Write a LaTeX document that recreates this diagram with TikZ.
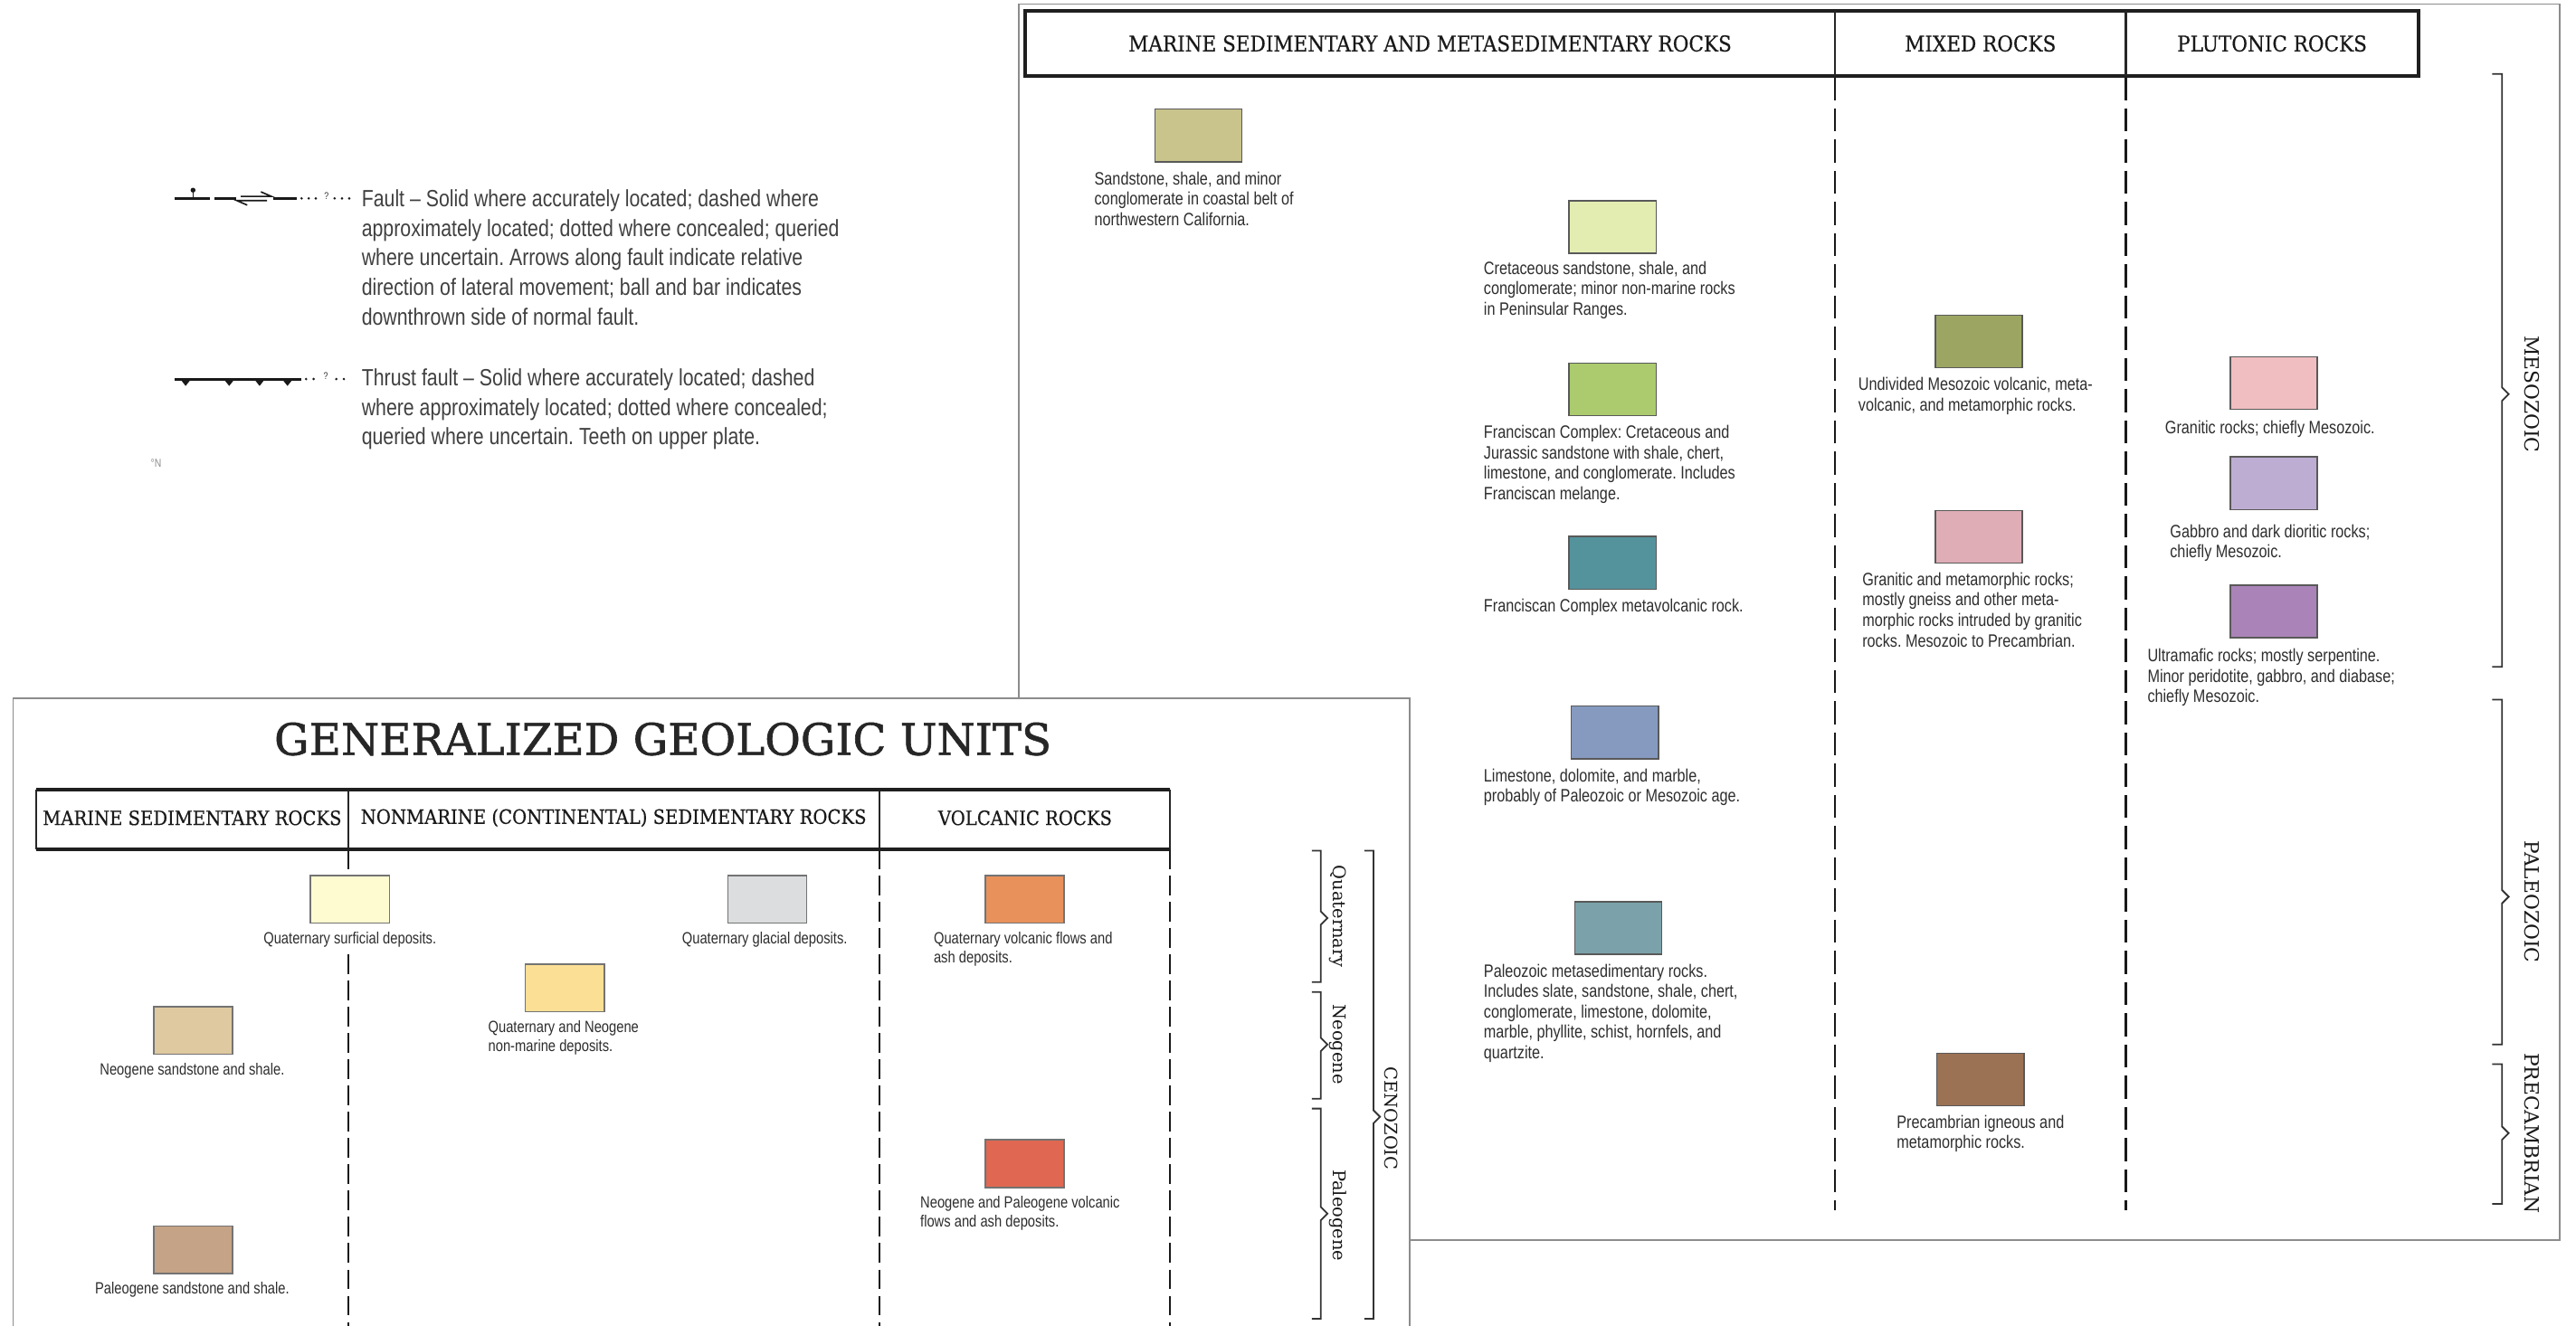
\documentclass[tikz,border=0pt]{standalone}
\usepackage{fontspec}
\setmainfont{Liberation Sans}
\newfontfamily\bodyf[FakeStretch=0.82]{Liberation Sans}
\newfontfamily\slabf[FakeBold=0.4]{DejaVu Serif Condensed}
\newfontfamily\titlef[FakeBold=1.2]{DejaVu Serif}
\newfontfamily\serf{DejaVu Serif}
\frenchspacing
\definecolor{cA}{HTML}{C8C48C}
\definecolor{cB}{HTML}{E4EDB1}
\definecolor{cC}{HTML}{ABCB6E}
\definecolor{cD}{HTML}{55939C}
\definecolor{cE}{HTML}{869ABF}
\definecolor{cF}{HTML}{7BA2AA}
\definecolor{cG}{HTML}{9CA662}
\definecolor{cH}{HTML}{DFADB6}
\definecolor{cI}{HTML}{9B7254}
\definecolor{cJ}{HTML}{F0BEC0}
\definecolor{cK}{HTML}{BEADD3}
\definecolor{cL}{HTML}{AA84B8}
\definecolor{cQs}{HTML}{FFFBD0}
\definecolor{cQg}{HTML}{DCDDDE}
\definecolor{cQv}{HTML}{E8915B}
\definecolor{cQN}{HTML}{FBDF95}
\definecolor{cNs}{HTML}{DFC9A0}
\definecolor{cNPv}{HTML}{E06751}
\definecolor{cPs}{HTML}{C5A386}
\tikzset{
 panel/.style={draw=black!45, line width=1pt, fill=white},
 hdrthick/.style={draw=black!88, line width=2.2pt},
 divline/.style={draw=black!85, line width=1.2pt},
 colsep/.style={draw=black!90, line width=1.3pt, dash pattern=on 14pt off 5pt},
 colsepb/.style={draw=black!90, line width=1.2pt, dash pattern=on 12pt off 4pt},
 swa/.style={draw=black!65, line width=0.8pt, minimum width=53pt, minimum height=32pt, inner sep=0pt},
 swb/.style={draw=black!55, line width=0.9pt, minimum width=48pt, minimum height=29pt, inner sep=0pt},
 ta/.style={font=\bodyf\fontsize{10.9}{12.4}\selectfont, align=left, inner sep=0pt, text=black!82, anchor=north west},
 tb/.style={font=\bodyf\fontsize{9.9}{11.5}\selectfont, align=left, inner sep=0pt, text=black!82},
 tleg/.style={font=\bodyf\fontsize{14.3}{18}\selectfont, align=left, inner sep=0pt, text=black!75, anchor=north west},
 hdra/.style={font=\slabf\fontsize{13.2}{15}\selectfont, text=black!90, inner sep=0pt},
 hdrb/.style={font=\slabf\fontsize{12}{14}\selectfont, text=black!90, inner sep=0pt},
 titl/.style={font=\titlef\fontsize{26.6}{30}\selectfont, text=black!85, inner sep=0pt},
 era/.style={font=\serf\fontsize{12}{14}\selectfont, rotate=-90, inner sep=0pt, text=black!90},
 per/.style={font=\serf\fontsize{10.7}{13}\selectfont, rotate=-90, inner sep=0pt, text=black!90},
 brk/.style={draw=black!80, line width=1pt},
 fl/.style={draw=black!90, line width=1.6pt},
 thin/.style={draw=black!90, line width=0.9pt},
 qm/.style={font=\bodyf\fontsize{6}{6}\selectfont, inner sep=0pt, text=black!80},
}
\begin{document}
\begin{tikzpicture}[x=1pt,y=-1pt]
\useasboundingbox (0,0) rectangle (1568,807.4);
\clip (0,0) rectangle (1568,807.4);

% ---------------- legend (fault symbols) ----------------
\coordinate (f1a) at (106.5,120.8); \coordinate (f1b) at (127.8,120.8);
\draw[fl] (f1a) -- (f1b);
\draw[thin] (117.5,120.8) -- (117.5,116.5);
\fill[black!90] (117.5,115.8) circle (1.5);
\coordinate (f2a) at (130.6,120.8); \coordinate (f2b) at (143.5,120.8);
\draw[fl] (f2a) -- (f2b);
\draw[thin] (158.8,116.8) -- (165.2,119.6) -- (146.5,119.6);
\draw[thin] (150.5,124.9) -- (144.1,122.1) -- (162.5,122.1);
\coordinate (f3a) at (166.3,120.8); \coordinate (f3b) at (180.6,120.8);
\draw[fl] (f3a) -- (f3b);
\foreach \x in {183.6,187.9,192.2,203.7,208.2,212.6} \fill[black!90] (\x,120.8) circle (0.8);
\node[qm] (fq) at (198.8,119.2) {?};
\node[tleg] (ftxt) at (220,115.3) {Fault – Solid where accurately located; dashed where\\approximately located; dotted where concealed; queried\\where uncertain. Arrows along fault indicate relative\\direction of lateral movement; ball and bar indicates\\downthrown side of normal fault.};

\coordinate (t1a) at (106.5,230.8); \coordinate (t1b) at (183.4,230.8);
\draw[fl] (t1a) -- (t1b);
\foreach \x in {113,139.5,158,175} \fill[black!90] (\x-3,231.2) -- (\x+3,231.2) -- (\x,235) -- cycle;
\foreach \x in {186.3,190.9,204.7,209.3} \fill[black!90] (\x,230.8) circle (0.8);
\node[qm] (tq) at (198.3,229.2) {?};
\node[tleg] (ttxt) at (220,224.3) {Thrust fault – Solid where accurately located; dashed\\where approximately located; dotted where concealed;\\queried where uncertain. Teeth on upper plate.};

\node[font=\bodyf\fontsize{7}{8}\selectfont, text=black!45, inner sep=0pt] (dn) at (95,282) {°N};

% ---------------- top-right panel ----------------
\draw[panel] (620,2.5) rectangle (1558,755);
\coordinate (d1t) at (1117,47); \coordinate (d1b) at (1117,737);
\coordinate (d2t) at (1294,47); \coordinate (d2b) at (1294,737);
\draw[colsep] (d1t) -- (d1b);
\draw[colsep] (d2t) -- (d2b);
\draw[hdrthick] (624,6.5) rectangle (1472,46.5);
\draw[divline] (1117,6.5) -- (1117,46.5);
\draw[divline] (1294,6.5) -- (1294,46.5);
\node[hdra] (h1) at (870.5,26.5) {MARINE SEDIMENTARY AND METASEDIMENTARY ROCKS};
\node[hdra] (h2) at (1205.5,26.5) {MIXED ROCKS};
\node[hdra] (h3) at (1383,26.5) {PLUTONIC ROCKS};

\node[swa, fill=cA] (sA) at (729.5,82.5) {};
\node[ta] (tA) at (666,104.3) {Sandstone, shale, and minor\\conglomerate in coastal belt of\\northwestern California.};
\node[swa, fill=cB] (sB) at (981.5,138.2) {};
\node[ta] (tB) at (903,158.8) {Cretaceous sandstone, shale, and\\conglomerate; minor non-marine rocks\\in Peninsular Ranges.};
\node[swa, fill=cC] (sC) at (981.5,237) {};
\node[ta] (tC) at (903,258.8) {Franciscan Complex: Cretaceous and\\Jurassic sandstone with shale, chert,\\limestone, and conglomerate. Includes\\Franciscan melange.};
\node[swa, fill=cD] (sD) at (981.5,342.7) {};
\node[ta] (tD) at (903,364.5) {Franciscan Complex metavolcanic rock.};
\node[swa, fill=cE] (sE) at (983,446) {};
\node[ta] (tE) at (903,467.8) {Limestone, dolomite, and marble,\\probably of Paleozoic or Mesozoic age.};
\node[swa, fill=cF] (sF) at (985,565) {};
\node[ta] (tF) at (903,586.8) {Paleozoic metasedimentary rocks.\\Includes slate, sandstone, shale, chert,\\conglomerate, limestone, dolomite,\\marble, phyllite, schist, hornfels, and\\quartzite.};
\node[swa, fill=cG] (sG) at (1204.5,208) {};
\node[ta] (tG) at (1131,229.8) {Undivided Mesozoic volcanic, meta-\\volcanic, and metamorphic rocks.};
\node[swa, fill=cH] (sH) at (1204.5,326.8) {};
\node[ta] (tH) at (1133.4,348.5) {Granitic and metamorphic rocks;\\mostly gneiss and other meta-\\morphic rocks intruded by granitic\\rocks. Mesozoic to Precambrian.};
\node[swa, fill=cI] (sI) at (1205.5,657.4) {};
\node[ta] (tI) at (1154.4,678.8) {Precambrian igneous and\\metamorphic rocks.};
\node[swa, fill=cJ] (sJ) at (1384,233.2) {};
\node[ta] (tJ) at (1317.7,255.8) {Granitic rocks; chiefly Mesozoic.};
\node[swa, fill=cK] (sK) at (1384,294.2) {};
\node[ta] (tK) at (1320.7,319.2) {Gabbro and dark dioritic rocks;\\chiefly Mesozoic.};
\node[swa, fill=cL] (sL) at (1384,372.4) {};
\node[ta] (tL) at (1307,394.8) {Ultramafic rocks; mostly serpentine.\\Minor peridotite, gabbro, and diabase;\\chiefly Mesozoic.};

\draw[brk] (1517,45) -- (1523,45) -- (1523,236) -- (1527,240) -- (1523,244) -- (1523,406) -- (1517,406);
\draw[brk] (1517,426) -- (1523,426) -- (1523,542) -- (1527,546) -- (1523,550) -- (1523,636) -- (1517,636);
\draw[brk] (1517,648) -- (1523,648) -- (1523,686) -- (1527,690) -- (1523,694) -- (1523,733) -- (1517,733);
\node[era] (eM) at (1541,240) {MESOZOIC};
\node[era] (eP) at (1541,549) {PALEOZOIC};
\node[era] (eC) at (1541,690) {PRECAMBRIAN};

% ---------------- bottom-left panel ----------------
\draw[panel] (8,425) rectangle (858,830);
\node[titl] (title) at (403.5,450) {GENERALIZED GEOLOGIC UNITS};
\coordinate (b1t) at (212,517); \coordinate (b1b) at (212,810);
\coordinate (b2t) at (535.5,517); \coordinate (b2b) at (535.5,810);
\coordinate (b3t) at (712,517); \coordinate (b3b) at (712,810);
\draw[colsepb] (b1t) -- (b1b);
\draw[colsepb] (b2t) -- (b2b);
\draw[colsepb] (b3t) -- (b3b);
\draw[divline] (22,481) -- (22,517);
\draw[divline] (712,481) -- (712,517);
\draw[divline] (212,481) -- (212,517);
\draw[divline] (535.5,481) -- (535.5,517);
\draw[hdrthick] (22,481) -- (712,481);
\draw[hdrthick] (22,517) -- (712,517);
\node[hdrb] (g1) at (117,498) {MARINE SEDIMENTARY ROCKS};
\node[hdrb] (g2) at (373.5,498) {NONMARINE (CONTINENTAL) SEDIMENTARY ROCKS};
\node[hdrb] (g3) at (624,498) {VOLCANIC ROCKS};

\node[swb, fill=cQs] (sQs) at (213,547.5) {};
\node[tb, fill=white, inner ysep=3pt, anchor=north] (tQs) at (213,564.4) {Quaternary surficial deposits.};
\node[swb, fill=cQg] (sQg) at (467,547.5) {};
\node[tb, anchor=north] (tQg) at (465.5,567.4) {Quaternary glacial deposits.};
\node[swb, fill=cQv] (sQv) at (623.8,547.5) {};
\node[tb, anchor=north west] (tQv) at (568.2,567.4) {Quaternary volcanic flows and\\ash deposits.};
\node[swb, fill=cQN] (sQN) at (343.8,601.5) {};
\node[tb, anchor=north west] (tQN) at (297,621.2) {Quaternary and Neogene\\non-marine deposits.};
\node[swb, fill=cNs] (sNs) at (117.7,627.5) {};
\node[tb, anchor=north] (tNs) at (117,647.1) {Neogene sandstone and shale.};
\node[swb, fill=cNPv] (sNPv) at (623.8,708.5) {};
\node[tb, anchor=north west] (tNPv) at (560,728.4) {Neogene and Paleogene volcanic\\flows and ash deposits.};
\node[swb, fill=cPs] (sPs) at (117.7,761) {};
\node[tb, anchor=north] (tPs) at (117,780.4) {Paleogene sandstone and shale.};

\draw[brk] (798.5,518) -- (804,518) -- (804,555) -- (808,559) -- (804,563) -- (804,598) -- (798.5,598);
\draw[brk] (798.5,604) -- (804,604) -- (804,632) -- (808,636) -- (804,640) -- (804,669) -- (798.5,669);
\draw[brk] (798.5,675) -- (804,675) -- (804,735) -- (808,739) -- (804,743) -- (804,803) -- (798.5,803);
\draw[brk] (830.5,518) -- (836,518) -- (836,676) -- (840,680) -- (836,684) -- (836,803) -- (830.5,803);
\node[per] (pQ) at (814.5,558) {Quaternary};
\node[per] (pN) at (814.5,636) {Neogene};
\node[per] (pP) at (814.5,740) {Paleogene};
\node[per] (pC) at (847,681) {CENOZOIC};
\end{tikzpicture}
\end{document}
